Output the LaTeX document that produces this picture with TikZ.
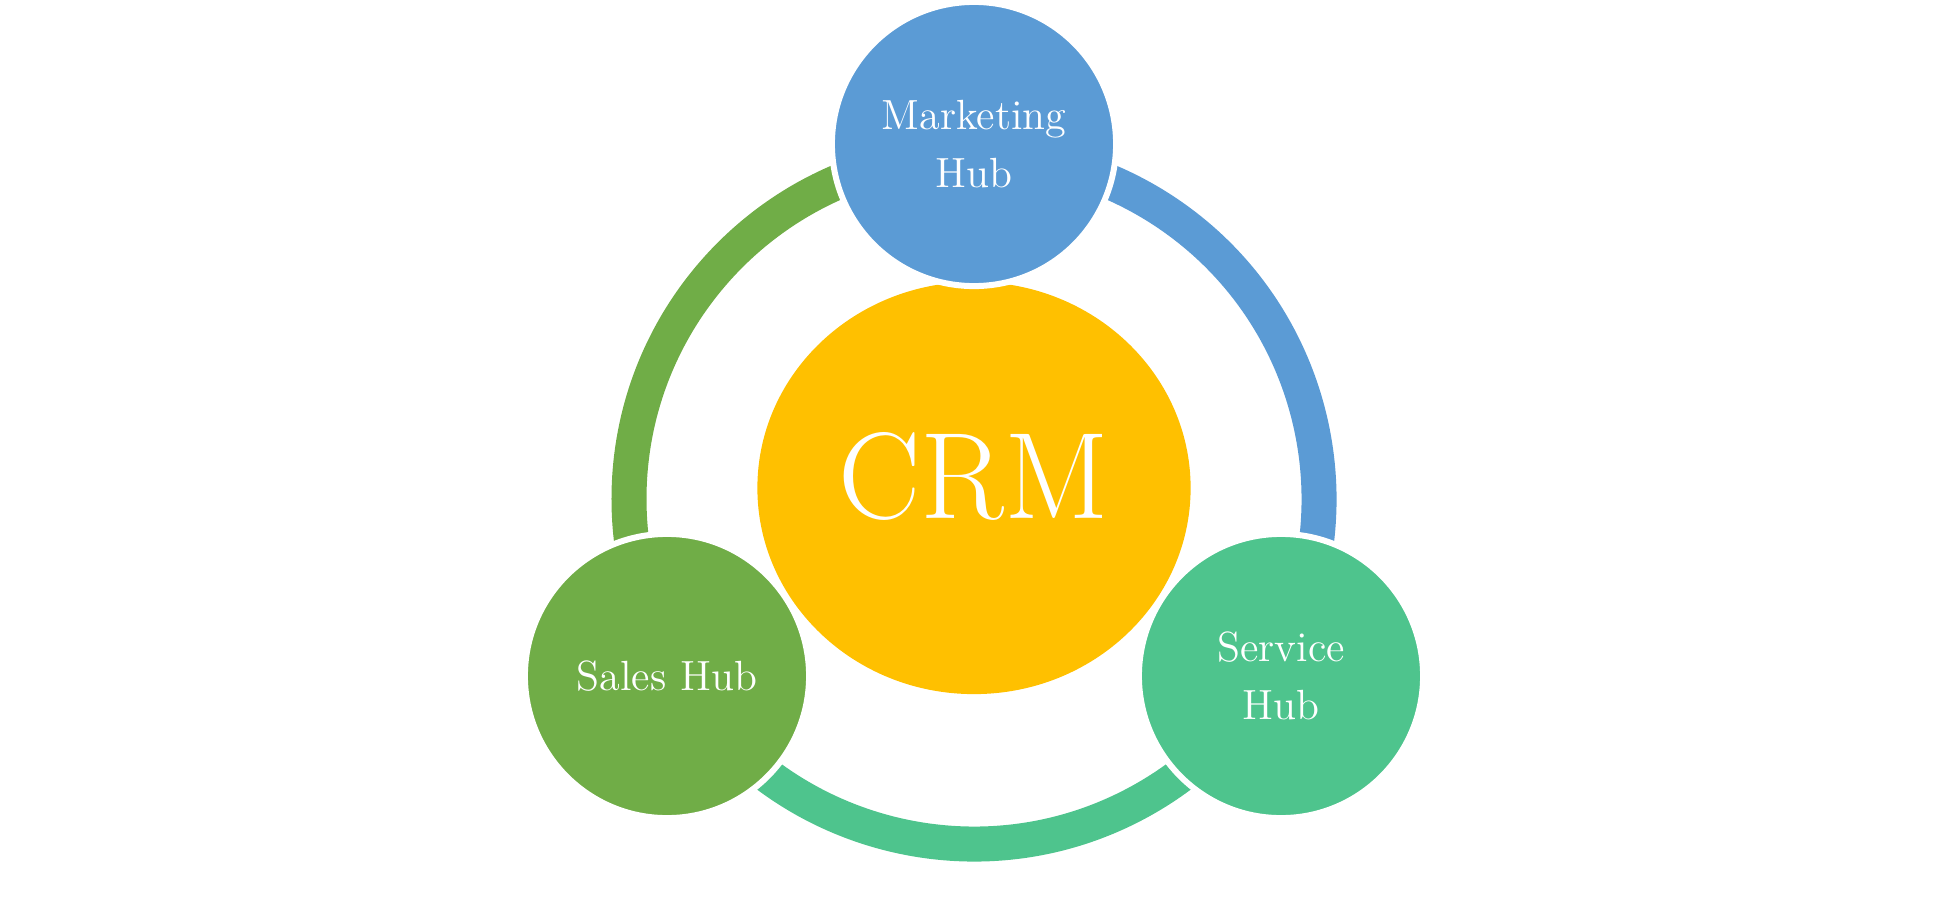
\documentclass[tikz,border=0pt]{standalone}
\usetikzlibrary{shapes.geometric}
\definecolor{mktblue}{HTML}{5B9BD5}
\definecolor{salesgreen}{HTML}{70AD47}
\definecolor{servteal}{HTML}{4EC48D}
\definecolor{crmgold}{HTML}{FFC000}
\tikzset{
  ringarc/.style={line width=0.35cm},
  hub/.style={circle, minimum size=2.84cm, inner sep=0pt, draw=white, line width=0.06cm,
    text=white, align=center, font=\fontsize{12}{16.5}\selectfont},
  crmshape/.style={ellipse, minimum width=4.33cm, minimum height=4.12cm, inner sep=0pt, fill=crmgold, draw=none},
  crmtext/.style={text=white, inner sep=0pt, font=\fontsize{35}{40}\selectfont}
}
\begin{document}
\begin{tikzpicture}[x=0.01cm, y=0.01cm]
\useasboundingbox (0,0) rectangle (1948,896);
\coordinate (rc) at (974,397);
% ring arcs
\draw[ringarc, salesgreen] ([shift={(90:345)}]rc) arc[start angle=90, end angle=210, radius=345];
\draw[ringarc, servteal] ([shift={(210:345)}]rc) arc[start angle=210, end angle=330, radius=345];
\draw[ringarc, mktblue] ([shift={(330:345)}]rc) arc[start angle=330, end angle=450, radius=345];
% CRM
\node[crmshape] (crm) at (974,408) {};
\node[crmtext] (crmlabel) at ([yshift=0.12cm]crm.center) {CRM};
% hubs
\node[hub, fill=mktblue] (mkt) at (974,752) {Marketing\\Hub};
\node[hub, fill=salesgreen] (sales) at (667,220) {Sales Hub};
\node[hub, fill=servteal] (serv) at (1281,220) {Service\\Hub};
\end{tikzpicture}
\end{document}
